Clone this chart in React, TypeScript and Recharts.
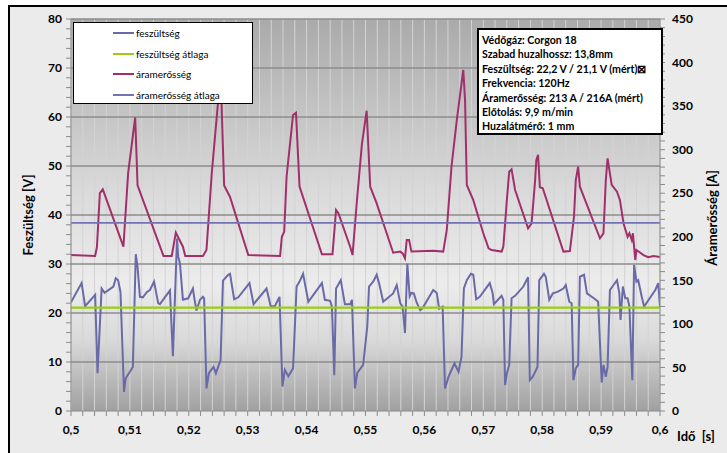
import { LineChart, Line, XAxis, YAxis, CartesianGrid, ReferenceLine } from "recharts";

// measured voltage [V] over time [s]
const voltageTime = [
  0.5, 0.5018, 0.5024, 0.5038, 0.5041, 0.5045, 0.5052, 0.5057, 0.5072, 0.5076, 0.508, 0.5084,
  0.509, 0.5093, 0.51, 0.5105, 0.511, 0.5113, 0.5117, 0.5122, 0.5129, 0.5134, 0.5141, 0.5148,
  0.5151, 0.5168, 0.5173, 0.518, 0.5182, 0.5185, 0.519, 0.5199, 0.5207, 0.5209, 0.5213, 0.5219,
  0.5224, 0.5226, 0.523, 0.5234, 0.5242, 0.5246, 0.5254, 0.5258, 0.5267, 0.527, 0.5277, 0.5284,
  0.5303, 0.531, 0.5332, 0.5339, 0.5346, 0.5354, 0.5359, 0.5363, 0.5369, 0.5377, 0.5383, 0.5388,
  0.5394, 0.5403, 0.5426, 0.5431, 0.544, 0.5443, 0.5447, 0.545, 0.5458, 0.5465, 0.5474, 0.5477,
  0.5482, 0.5486, 0.5496, 0.5503, 0.5506, 0.5513, 0.5519, 0.5523, 0.553, 0.5547, 0.5553, 0.5559,
  0.5563, 0.5567, 0.5571, 0.5575, 0.5578, 0.5582, 0.5587, 0.5593, 0.5597, 0.5615, 0.5621, 0.5625,
  0.5631, 0.5635, 0.5641, 0.5651, 0.5658, 0.5663, 0.5667, 0.5672, 0.5679, 0.5683, 0.5688, 0.5694,
  0.5711, 0.5716, 0.5718, 0.5731, 0.5734, 0.5737, 0.574, 0.5744, 0.5748, 0.5754, 0.5768, 0.5776,
  0.5779, 0.5784, 0.5792, 0.5795, 0.5803, 0.5806, 0.5812, 0.5818, 0.5826, 0.5836, 0.584, 0.5846,
  0.585, 0.5853, 0.5857, 0.5861, 0.5864, 0.5871, 0.5876, 0.589, 0.5895, 0.5901, 0.5904, 0.5908,
  0.5911, 0.5915, 0.5927, 0.5931, 0.5933, 0.5937, 0.5941, 0.5945, 0.5948, 0.5953, 0.5956, 0.596,
  0.5963, 0.5969, 0.5973, 0.5992, 0.5997, 0.6,
];
const voltageValue = [
  22.2, 26.1, 21.4, 23.3, 23.7, 7.7, 25.0, 24.1, 25.4, 27.1, 26.7, 24.3,
  3.9, 6.7, 8.0, 9.0, 32.0, 29.4, 23.3, 23.2, 24.3, 24.7, 26.4, 22.0,
  21.8, 24.6, 11.2, 35.2, 31.5, 30.1, 22.7, 23.0, 25.0, 23.3, 20.5, 22.7,
  23.3, 23.0, 4.6, 7.7, 9.0, 7.7, 10.4, 26.6, 27.8, 28.0, 22.8, 23.2,
  26.1, 21.8, 25.0, 21.4, 21.4, 23.3, 5.0, 8.4, 7.1, 8.7, 25.4, 26.4,
  28.0, 22.3, 26.1, 22.7, 22.5, 21.3, 7.3, 25.0, 26.7, 21.8, 21.8, 22.7,
  4.6, 7.8, 9.4, 17.2, 25.4, 26.4, 27.8, 26.1, 22.3, 24.0, 25.7, 22.0,
  21.3, 15.9, 30.1, 23.4, 24.1, 24.0, 22.1, 20.6, 21.0, 24.7, 24.1, 20.9,
  21.3, 4.6, 7.0, 9.7, 8.0, 11.1, 25.0, 26.7, 28.0, 27.8, 22.8, 23.3,
  26.1, 24.0, 21.8, 23.5, 22.7, 5.3, 7.7, 9.4, 23.0, 23.5, 25.4, 27.3,
  6.3, 7.0, 9.0, 26.7, 28.0, 27.4, 22.7, 24.0, 24.3, 25.0, 25.7, 22.3,
  22.0, 6.3, 8.7, 9.4, 27.4, 27.8, 24.0, 22.8, 22.3, 5.8, 9.4, 7.0,
  9.0, 24.7, 26.7, 24.0, 18.6, 25.4, 23.0, 23.0, 21.3, 6.3, 29.8, 26.4,
  26.7, 23.3, 21.3, 24.7, 26.1, 21.3,
];

// measured current [A] over time [s]
const currentTime = [
  0.5, 0.5041, 0.5044, 0.5049, 0.5054, 0.5089, 0.5097, 0.5109, 0.5113, 0.5157, 0.5171, 0.5178,
  0.519, 0.5194, 0.5224, 0.523, 0.5239, 0.525, 0.5255, 0.526, 0.527, 0.5301, 0.5355, 0.5358,
  0.5362, 0.5366, 0.5377, 0.5382, 0.5388, 0.5426, 0.5444, 0.545, 0.5454, 0.5468, 0.5474, 0.5478,
  0.5486, 0.5494, 0.5502, 0.5508, 0.5519, 0.5547, 0.5559, 0.5563, 0.5567, 0.557, 0.5574, 0.5578,
  0.5615, 0.5632, 0.5638, 0.5646, 0.5655, 0.5666, 0.5669, 0.5672, 0.5683, 0.57, 0.5709, 0.5714,
  0.5731, 0.5734, 0.574, 0.5744, 0.5748, 0.5754, 0.5776, 0.5782, 0.5788, 0.579, 0.5793, 0.5796,
  0.5801, 0.5836, 0.5847, 0.5854, 0.5857, 0.5861, 0.5864, 0.5898, 0.5904, 0.5908, 0.5911, 0.5918,
  0.5927, 0.5932, 0.5938, 0.5945, 0.5948, 0.5952, 0.5954, 0.5958, 0.596, 0.5972, 0.598, 0.5989,
  0.6,
];
const currentValue = [
  179, 178, 188, 250, 254.5, 188.6, 273, 337, 259, 178, 178, 204.7,
  188.6, 178, 178, 184.8, 273, 357, 366, 259, 245.7, 179, 178, 200,
  205.8, 269, 339.8, 342.5, 257.5, 180, 180, 230.7, 227, 200, 188.6, 179,
  246, 307, 344.7, 257.5, 238.4, 181.7, 183, 181, 175.3, 196.3, 196.3, 183,
  184, 183, 207.8, 280.5, 334, 391.5, 357, 259.5, 242, 204, 186.8, 184.8,
  183, 188.6, 242, 274.7, 277.5, 253.7, 209.7, 215.5, 265, 288, 294, 256.8,
  255.7, 183, 183.7, 223, 265, 280.5, 257.5, 198.3, 204, 265, 290, 259.5,
  251.8, 242, 215.5, 200, 204, 196.3, 204, 173.3, 184.8, 179, 176.5, 178,
  176.8,
];

const voltageMean = 21.1;
const currentMean = 216;
const timeDomain = [0.5, 0.6];

const voltageTicks = Array.from({ length: 41 }, (_, i) => i * 2);
const voltageGrid = [10, 20, 30, 40, 50, 60, 70, 80];
const currentTicks = Array.from({ length: 46 }, (_, i) => i * 10);
const timeTicks = Array.from({ length: 51 }, (_, i) => +(0.5 + i * 0.002).toFixed(3));

const seriesNames = ["feszültség", "feszültség átlaga", "áramerősség", "áramerősség átlaga"];
const seriesColors = ["#6a6aa8", "#9acd14", "#a1306a", "#7272b4"];

const infoLines = [
  "Védőgáz: Corgon 18",
  "Szabad huzalhossz: 13,8mm",
  "Feszültség: 22,2 V / 21,1 V (mért)⊠",
  "Frekvencia: 120Hz",
  "Áramerősség: 213 A / 216A (mért)",
  "Előtolás: 9,9 m/min",
  "Huzalátmérő: 1 mm",
];

const voltageData = voltageTime.map((t, i) => ({ t, v: voltageValue[i] }));
const currentData = currentTime.map((t, i) => ({ t, v: currentValue[i] }));
const voltageMeanData = timeDomain.map((t) => ({ t, v: voltageMean }));
const currentMeanData = timeDomain.map((t) => ({ t, v: currentMean }));

const FONT = "Lato, 'Open Sans', sans-serif";
const tickStyle = { fontSize: 12, fontWeight: 700, fill: "#000", fontFamily: FONT };

const fmtTime = (v: number) => {
  const ms = Math.round(v * 1000);
  return ms % 10 === 0 ? String(+v.toFixed(2)).replace(".", ",") : "";
};

export default function App() {
  return (
    <div
      style={{
        position: "absolute",
        left: 0,
        top: 0,
        width: 727,
        height: 453,
        overflow: "hidden",
        background: "#fff",
        fontFamily: FONT,
      }}
    >
      <div
        style={{
          position: "absolute",
          left: 8,
          top: 5,
          width: 800,
          height: 500,
          border: "2px solid #000",
          background: "#ebebeb",
        }}
      />
      <div style={{ position: "absolute", left: 0, top: 0 }}>
        <LineChart width={727} height={453} margin={{ top: 19, right: 27, bottom: 12, left: 31 }}>
          <defs>
            <linearGradient id="plotBg" x1="0" y1="0" x2="0" y2="1">
              <stop offset="0%" stopColor="#aaaaaa" />
              <stop offset="45%" stopColor="#dbdbdb" />
              <stop offset="68%" stopColor="#ececec" />
              <stop offset="82%" stopColor="#d9d9d9" />
              <stop offset="100%" stopColor="#a0a0a0" />
            </linearGradient>
          </defs>
          <CartesianGrid
            yAxisId="v"
            horizontal={false}
            fill="url(#plotBg)"
            fillOpacity={1}
            stroke="#d3d3d3"
            strokeWidth={1}
          />
          <XAxis
            dataKey="t"
            type="number"
            domain={timeDomain}
            ticks={timeTicks}
            interval={0}
            allowDataOverflow
            tickFormatter={fmtTime}
            tick={tickStyle}
            tickSize={5}
            tickMargin={9}
            height={30}
            stroke="#8a8a8a"
          />
          <YAxis
            yAxisId="v"
            orientation="left"
            domain={[0, 80]}
            ticks={voltageTicks}
            interval={0}
            tickFormatter={(v: number) => (v % 10 === 0 ? String(v) : "")}
            tick={tickStyle}
            tickSize={5}
            tickMargin={4}
            width={40}
            stroke="#8a8a8a"
          />
          <YAxis
            yAxisId="a"
            orientation="right"
            domain={[0, 450]}
            ticks={currentTicks}
            interval={0}
            tickFormatter={(v: number) => (v % 50 === 0 ? String(v) : "")}
            tick={{ ...tickStyle, textAnchor: "start" }}
            tickSize={5}
            tickMargin={7}
            width={40}
            stroke="#8a8a8a"
          />
          {voltageGrid.map((g) => (
            <ReferenceLine key={g} yAxisId="v" y={g} stroke="#8c8c8c" strokeWidth={1.3} zIndex={-50} />
          ))}
          <Line
            yAxisId="v"
            data={voltageData}
            dataKey="v"
            name={seriesNames[0]}
            type="linear"
            stroke={seriesColors[0]}
            strokeWidth={2}
            dot={false}
            isAnimationActive={false}
          />
          <Line
            yAxisId="v"
            data={voltageMeanData}
            dataKey="v"
            name={seriesNames[1]}
            type="linear"
            stroke={seriesColors[1]}
            strokeWidth={2.2}
            dot={false}
            isAnimationActive={false}
          />
          <Line
            yAxisId="a"
            data={currentData}
            dataKey="v"
            name={seriesNames[2]}
            type="linear"
            stroke={seriesColors[2]}
            strokeWidth={2}
            dot={false}
            isAnimationActive={false}
          />
          <Line
            yAxisId="a"
            data={currentMeanData}
            dataKey="v"
            name={seriesNames[3]}
            type="linear"
            stroke={seriesColors[3]}
            strokeWidth={1.6}
            dot={false}
            isAnimationActive={false}
          />
        </LineChart>
      </div>

      {/* legend */}
      <div
        style={{
          position: "absolute",
          left: 73,
          top: 22,
          width: 178,
          height: 80,
          border: "1.5px solid #000",
          background: "#fff",
        }}
      >
        {seriesNames.map((name, i) => (
          <div
            key={name}
            style={{
              position: "absolute",
              left: 39,
              top: 4 + i * 20.5,
              height: 12,
              display: "flex",
              alignItems: "center",
              fontSize: 10,
              whiteSpace: "nowrap",
              color: "#000",
            }}
          >
            <span style={{ display: "inline-block", width: 21, height: 2, background: seriesColors[i] }} />
            <span style={{ marginLeft: 2 }}>{name}</span>
          </div>
        ))}
      </div>

      {/* test parameters */}
      <div
        style={{
          position: "absolute",
          left: 477,
          top: 28,
          width: 182,
          height: 103,
          border: "2px solid #000",
          background: "#fff",
        }}
      >
        {infoLines.map((line, i) => (
          <div
            key={line}
            style={{
              position: "absolute",
              left: 3,
              top: 2 + i * 14.4,
              fontSize: 10.6,
              fontWeight: 700,
              lineHeight: "16px",
              whiteSpace: "nowrap",
              color: "#000",
            }}
          >
            {line}
          </div>
        ))}
      </div>

      {/* axis titles */}
      <div
        style={{
          position: "absolute",
          left: 28,
          top: 215,
          transform: "translate(-50%, -50%) rotate(-90deg)",
          fontSize: 13,
          fontWeight: 700,
          whiteSpace: "nowrap",
        }}
      >
        Feszültség [V]
      </div>
      <div
        style={{
          position: "absolute",
          left: 712,
          top: 218,
          transform: "translate(-50%, -50%) rotate(-90deg)",
          fontSize: 13,
          fontWeight: 700,
          whiteSpace: "nowrap",
        }}
      >
        Áramerősség [A]
      </div>
      <div
        style={{
          position: "absolute",
          left: 677,
          top: 428,
          fontSize: 13,
          fontWeight: 700,
          whiteSpace: "pre",
        }}
      >
        {"Idő  [s]"}
      </div>
    </div>
  );
}
